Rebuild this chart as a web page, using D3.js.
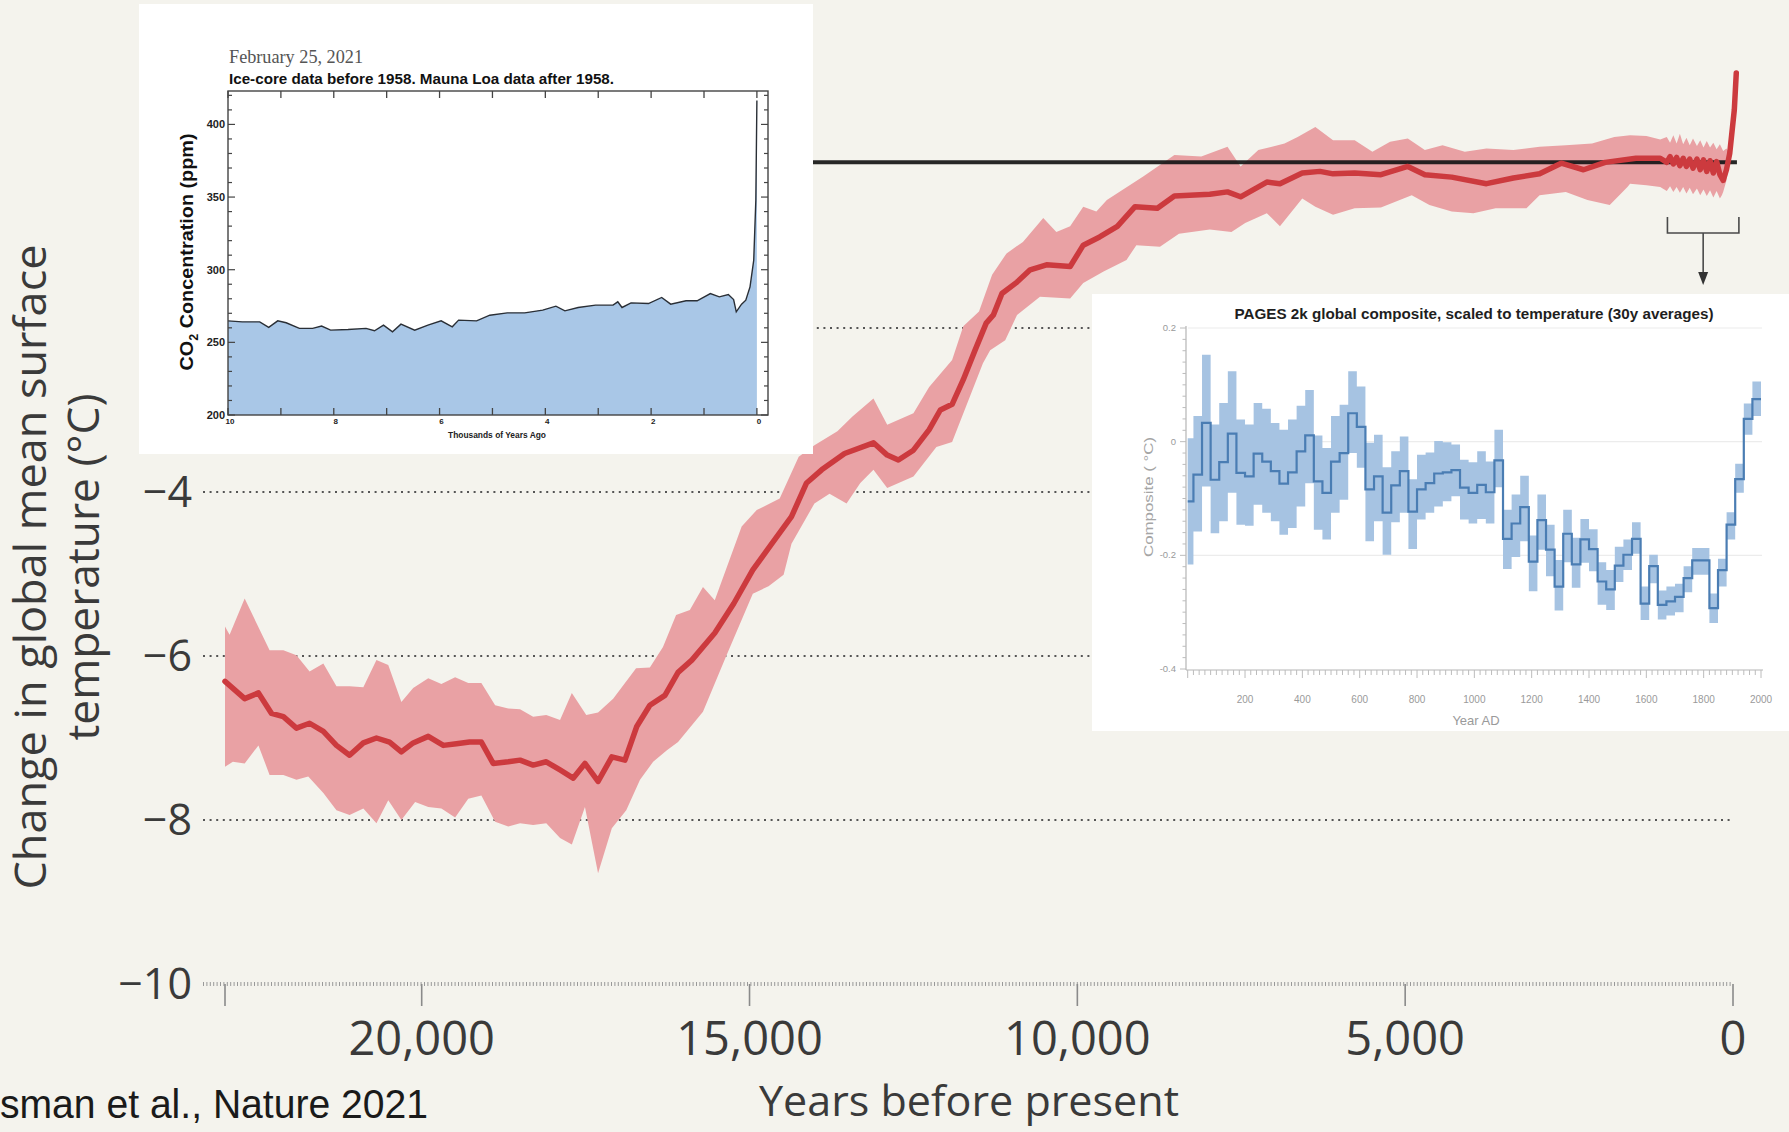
<!DOCTYPE html>
<html lang="en">
<head>
<meta charset="utf-8"/>
<title>Change in global mean surface temperature</title>
<script src="https://cdnjs.cloudflare.com/ajax/libs/d3/7.8.5/d3.min.js"></script>
<style>
  html, body { margin: 0; padding: 0; background: #f4f3ed; }
  svg { display: block; }
</style>
</head>
<body>
<svg id="chart" width="1789" height="1132"></svg>
<script>
// main reconstruction: years before present / temperature change (°C)
var lineYears = [23000,22700,22490,22290,22110,21910,21710,21500,21300,21100,20890,20690,20490,20310,20130,19900,19670,19470,19270,19090,
  18910,18680,18500,18300,18100,17890,17690,17510,17310,17100,16900,16720,16520,16290,16090,15880,15530,15240,14950,14660,14360,14130,13900,
  13550,13110,12900,12730,12500,12260,12090,11910,11740,11560,11390,11280,11150,10920,10720,10470,10110,9910,9660,9390,9120,8780,8520,7980,
  7710,7510,7110,6910,6570,6300,6100,5770,5370,4960,4700,4290,3760,3350,2950,2620,2280,1950,1480,1110,
  1010,960,910,860,810,760,710,660,610,550,500,450,400,350,300,250,200,150,100,50,-20,-50];
var lineTemp = [-6.31,-6.52,-6.45,-6.70,-6.74,-6.88,-6.82,-6.92,-7.09,-7.21,-7.06,-7.00,-7.05,-7.17,-7.06,-6.98,-7.09,-7.07,-7.05,-7.05,
  -7.31,-7.29,-7.27,-7.33,-7.29,-7.39,-7.49,-7.31,-7.53,-7.23,-7.27,-6.86,-6.60,-6.48,-6.20,-6.05,-5.72,-5.36,-4.95,-4.63,-4.30,-3.89,-3.73,
  -3.53,-3.40,-3.55,-3.61,-3.49,-3.24,-3.00,-2.93,-2.63,-2.27,-1.94,-1.84,-1.58,-1.44,-1.29,-1.23,-1.25,-0.99,-0.89,-0.76,-0.52,-0.54,-0.39,-0.37,
  -0.34,-0.40,-0.22,-0.24,-0.11,-0.09,-0.12,-0.11,-0.13,-0.03,-0.13,-0.16,-0.24,-0.17,-0.12,0.01,-0.07,0.02,0.07,0.07,
  0.02,0.09,0.00,0.08,-0.02,0.07,-0.03,0.06,-0.05,0.06,-0.07,0.05,-0.09,0.04,-0.11,0.03,-0.13,-0.20,-0.07,0.13,0.66,1.11];

var upperYears = [23000,22930,22700,22320,22110,21910,21710,21500,21300,21100,20890,20690,20510,20310,20130,19900,19700,19490,19290,19090,
  18880,18680,18500,18300,18100,17890,17710,17490,17310,17080,16730,16520,16320,16120,15910,15710,15530,15120,14890,14540,14250,14010,13660,
  13430,13110,12900,12500,12260,11910,11740,11500,11300,11080,10830,10520,10320,10110,9910,9710,9550,8990,8520,8110,7710,7510,7240,6840,6640,
  6370,6100,5770,5500,5230,4960,4700,4430,4090,3760,3350,2950,2550,2150,1810,1570,1320,1110,
  1010,960,910,860,810,760,710,660,610,550,500,450,400,350,300,250,200,150,100,50];
var upperTemp = [-5.64,-5.74,-5.30,-5.93,-5.93,-5.99,-6.19,-6.09,-6.37,-6.37,-6.38,-6.05,-6.11,-6.56,-6.39,-6.27,-6.34,-6.26,-6.33,-6.33,
  -6.60,-6.64,-6.65,-6.74,-6.72,-6.78,-6.45,-6.72,-6.69,-6.52,-6.15,-6.14,-5.89,-5.50,-5.44,-5.16,-5.32,-4.42,-4.22,-4.08,-3.57,-3.43,-3.26,
  -3.08,-2.86,-3.18,-3.04,-2.72,-2.39,-1.98,-1.80,-1.35,-1.09,-0.95,-0.66,-0.83,-0.76,-0.52,-0.58,-0.44,-0.15,0.11,0.09,0.21,-0.03,0.17,0.25,0.33,
  0.45,0.29,0.29,0.15,0.27,0.31,0.17,0.23,0.15,0.19,0.17,0.21,0.23,0.25,0.33,0.35,0.34,0.30,
  0.33,0.26,0.35,0.25,0.37,0.24,0.32,0.23,0.31,0.22,0.29,0.20,0.28,0.20,0.26,0.18,0.24,0.16,0.19,0.13];

var lowerYears = [23000,22880,22700,22490,22320,22110,21910,21730,21500,21300,21100,20890,20690,20510,20310,20100,19900,19700,19490,19290,
  19090,18880,18680,18500,18300,18100,17890,17710,17510,17310,17100,16880,16670,16470,16260,16090,15710,15360,14950,14710,14480,14360,14010,
  13780,13520,13310,13110,12900,12500,12150,11910,11440,11330,11100,10920,10570,10110,9910,9600,9250,9100,8740,8450,7980,7650,7440,7110,6910,
  6570,6370,6100,5770,5370,4900,4630,4290,3960,3620,3150,2950,2550,2220,1880,1610,1570,1320,1110,
  1010,960,910,860,810,760,710,660,610,550,500,450,400,350,300,250,200,170,150,100,50];
var lowerTemp = [-7.35,-7.29,-7.31,-7.09,-7.45,-7.45,-7.51,-7.47,-7.67,-7.88,-7.94,-7.86,-8.04,-7.76,-8.00,-7.78,-7.84,-7.86,-7.97,-7.74,
  -7.70,-8.02,-8.08,-8.04,-8.06,-8.04,-8.22,-8.30,-7.84,-8.65,-8.10,-7.88,-7.51,-7.29,-7.15,-7.05,-6.68,-6.01,-5.24,-5.15,-5.01,-4.63,-4.14,
  -4.02,-4.14,-3.89,-3.73,-3.95,-3.81,-3.45,-3.39,-2.43,-2.27,-2.15,-1.84,-1.62,-1.64,-1.45,-1.31,-1.17,-0.99,-1.01,-0.85,-0.80,-0.83,-0.72,-0.60,-0.76,
  -0.42,-0.52,-0.62,-0.54,-0.53,-0.38,-0.50,-0.58,-0.60,-0.54,-0.54,-0.38,-0.34,-0.44,-0.50,-0.28,-0.24,-0.26,-0.28,
  -0.33,-0.27,-0.34,-0.28,-0.35,-0.28,-0.36,-0.29,-0.37,-0.30,-0.38,-0.31,-0.39,-0.32,-0.41,-0.33,-0.42,-0.38,-0.34,-0.20,0.05];

var xTicks = [20000, 15000, 10000, 5000, 0];
var yTicks = [-4, -6, -8, -10];
var gridTemps = [-2, -4, -6, -8];
var refTemp = 0.02;
var bracketYears = [1000, -90];

// inset 1: CO2 (thousands of years ago / ppm)
var co2Kyr = [10.00,9.73,9.40,9.23,9.06,8.90,8.65,8.40,8.23,8.06,7.73,7.39,7.23,7.06,6.89,6.73,6.47,6.22,5.97,5.76,5.64,5.30,5.05,4.72,4.39,
  4.05,3.80,3.63,3.38,3.05,2.72,2.63,2.55,2.38,2.05,1.80,1.63,1.34,1.13,0.88,0.71,0.54,0.44,0.39,0.29,0.21,0.13,0.06,0.02,0.00];
var co2Ppm = [264.8,264.1,264.1,260.3,264.8,263.5,259.6,259.6,261.2,258.4,258.8,259.6,258.0,261.9,257.3,262.5,258.4,261.9,264.8,260.7,265.3,
  264.8,268.7,270.3,270.3,272.2,274.9,271.7,274.0,275.6,275.6,277.9,274.0,277.2,276.7,280.9,276.3,278.6,278.6,283.6,281.3,282.9,279.5,271.0,
  276.3,279.0,288.2,306.5,347.8,416.5];
var co2XTicks = [10, 8, 6, 4, 2, 0];
var co2YTicks = [200, 250, 300, 350, 400];

// inset 2: PAGES 2k composite, 30-year bins (bin start, year AD)
var compYears = [0,20,50,80,110,140,170,200,230,260,290,320,350,380,410,440,470,500,530,560,590,620,650,680,710,740,770,800,830,860,890,920,950,980,
  1010,1040,1070,1100,1130,1160,1190,1220,1250,1280,1310,1340,1370,1400,1430,1460,1490,1520,1550,1580,1610,1640,1670,1700,1730,1760,1790,1820,1850,1880,1910,1940,1970];
var compMedian = [-0.105,-0.058,0.033,-0.067,-0.036,0.014,-0.055,-0.061,-0.021,-0.035,-0.052,-0.074,-0.054,-0.017,0.011,-0.070,-0.090,-0.035,-0.020,0.050,
  0.026,-0.084,-0.061,-0.125,-0.077,-0.052,-0.123,-0.084,-0.073,-0.056,-0.054,-0.050,-0.081,-0.090,-0.076,-0.089,-0.033,-0.171,-0.144,-0.115,-0.211,
  -0.138,-0.190,-0.255,-0.162,-0.216,-0.172,-0.189,-0.246,-0.260,-0.218,-0.199,-0.171,-0.285,-0.219,-0.287,-0.281,-0.273,-0.240,-0.209,-0.209,-0.293,
  -0.226,-0.146,-0.066,0.040,0.075];
var compUpper = [0.006,0.045,0.153,0.030,0.068,0.124,0.039,0.030,0.068,0.058,0.033,0.021,0.039,0.063,0.091,0.011,-0.011,0.045,0.065,0.124,
  0.097,-0.002,0.012,-0.045,-0.017,0.009,-0.066,-0.023,-0.019,0.001,-0.001,-0.005,-0.032,-0.036,-0.017,-0.035,0.021,-0.120,-0.093,-0.060,-0.165,
  -0.093,-0.146,-0.208,-0.120,-0.169,-0.136,-0.154,-0.212,-0.226,-0.185,-0.172,-0.142,-0.255,-0.199,-0.262,-0.255,-0.250,-0.219,-0.187,-0.187,-0.267,
  -0.206,-0.124,-0.039,0.067,0.106];
var compLower = [-0.216,-0.158,-0.079,-0.161,-0.140,-0.090,-0.146,-0.148,-0.111,-0.125,-0.140,-0.164,-0.152,-0.114,-0.073,-0.155,-0.172,-0.125,-0.102,-0.020,
  -0.046,-0.175,-0.140,-0.199,-0.142,-0.125,-0.189,-0.137,-0.125,-0.114,-0.105,-0.096,-0.137,-0.144,-0.136,-0.144,-0.080,-0.224,-0.203,-0.175,-0.263,
  -0.190,-0.237,-0.297,-0.212,-0.257,-0.213,-0.228,-0.287,-0.296,-0.247,-0.226,-0.197,-0.314,-0.249,-0.313,-0.306,-0.300,-0.265,-0.234,-0.234,-0.319,
  -0.255,-0.172,-0.090,0.012,0.045];
var compEnd = 2000;
var compXTicks = [200,400,600,800,1000,1200,1400,1600,1800,2000];
var compYTicks = [0.2, 0, -0.2, -0.4];

var svg = d3.select("#chart");
var ink = "#3a3a3a";
var sans = "'Open Sans', 'DejaVu Sans', sans-serif";

svg.append("rect").attr("width", 1789).attr("height", 1132).attr("fill", "#f4f3ed");

// ---------- main chart ----------
var x = d3.scaleLinear().domain([23000, 0]).range([225, 1733]);
var y = d3.scaleLinear().domain([-10, 0]).range([984, 164]);

var grid = svg.append("g");
grid.selectAll("line.g").data(gridTemps).enter().append("line")
  .attr("x1", 203).attr("x2", x(0))
  .attr("y1", function(d) { return y(d); }).attr("y2", function(d) { return y(d); })
  .attr("stroke", "#555").attr("stroke-width", 2).attr("stroke-dasharray", "2,4.6");
// bottom line (-10) looks like a fine ruler
grid.append("line").attr("x1", 203).attr("x2", x(0)).attr("y1", y(-10)).attr("y2", y(-10))
  .attr("stroke", "#999").attr("stroke-width", 4).attr("stroke-dasharray", "1,2.4");
grid.selectAll("line.t").data([23000].concat(xTicks)).enter().append("line")
  .attr("x1", function(d) { return x(d); }).attr("x2", function(d) { return x(d); })
  .attr("y1", y(-10)).attr("y2", y(-10) + 22)
  .attr("stroke", "#8a8a8a").attr("stroke-width", 1.6);

var pts = function(ys, vs) { return ys.map(function(v, i) { return [v, vs[i]]; }); };
var upperPts = pts(upperYears, upperTemp);
var lowerPts = pts(lowerYears, lowerTemp).reverse();
var ln = d3.line().x(function(d) { return x(d[0]); }).y(function(d) { return y(d[1]); });

svg.append("path").attr("d", ln(upperPts.concat(lowerPts)) + "Z").attr("fill", "#e9a1a4");

svg.append("line").attr("x1", 813).attr("x2", x(-60))
  .attr("y1", y(refTemp)).attr("y2", y(refTemp))
  .attr("stroke", "#161616").attr("stroke-width", 4).attr("opacity", 0.92);

svg.append("path").attr("d", ln(pts(lineYears, lineTemp)))
  .attr("fill", "none").attr("stroke", "#cc3a3e").attr("stroke-width", 5.5)
  .attr("stroke-linejoin", "round").attr("stroke-linecap", "round");

// bracket + arrow to the PAGES 2k inset
var bx0 = x(bracketYears[0]), bx1 = x(bracketYears[1]), bmid = (bx0 + bx1) / 2;
svg.append("path").attr("d", "M" + bx0 + ",217V233H" + bx1 + "V217M" + bmid + ",233V274")
  .attr("fill", "none").attr("stroke", "#4a4a4a").attr("stroke-width", 1.6);
svg.append("path").attr("d", "M" + (bmid - 5) + ",272L" + (bmid + 5) + ",272L" + bmid + ",285Z").attr("fill", "#333");

// axis labels
svg.selectAll("text.xt").data(xTicks).enter().append("text")
  .attr("x", function(d) { return x(d); }).attr("y", 1055)
  .attr("text-anchor", "middle").attr("font-family", sans).attr("font-size", 47).attr("fill", ink)
  .text(function(d) { return d3.format(",")(d); });
svg.selectAll("text.yt").data(yTicks).enter().append("text")
  .attr("x", 192).attr("y", function(d) { return y(d); }).attr("dy", "0.36em")
  .attr("text-anchor", "end").attr("font-family", sans).attr("font-size", 43).attr("fill", ink)
  .text(function(d) { return "\u2212" + Math.abs(d); });

svg.append("text").attr("transform", "translate(46,567) rotate(-90)")
  .attr("text-anchor", "middle").attr("font-family", sans).attr("font-size", 44).attr("fill", ink)
  .attr("textLength", 645).attr("lengthAdjust", "spacingAndGlyphs")
  .text("Change in global mean surface");
svg.append("text").attr("transform", "translate(99,567) rotate(-90)")
  .attr("text-anchor", "middle").attr("font-family", sans).attr("font-size", 44).attr("fill", ink)
  .attr("textLength", 347).attr("lengthAdjust", "spacingAndGlyphs")
  .text("temperature (\u00b0C)");
svg.append("text").attr("x", 969).attr("y", 1116)
  .attr("text-anchor", "middle").attr("font-family", sans).attr("font-size", 42).attr("fill", ink)
  .attr("textLength", 420).attr("lengthAdjust", "spacingAndGlyphs")
  .text("Years before present");
svg.append("text").attr("x", 0).attr("y", 1118)
  .attr("font-family", "'Liberation Sans Narrow', 'Liberation Sans', sans-serif").attr("font-size", 40).attr("fill", "#1a1a1a")
  .attr("textLength", 428).attr("lengthAdjust", "spacingAndGlyphs")
  .text("sman et al., Nature 2021");

// ---------- inset 1: CO2 ----------
var g1 = svg.append("g");
var helv = "'Liberation Sans', Arial, sans-serif";
g1.append("rect").attr("x", 139).attr("y", 4).attr("width", 674).attr("height", 450).attr("fill", "#fff");
var cx = d3.scaleLinear().domain([10, -0.21]).range([228, 768]);
var cy = d3.scaleLinear().domain([200, 423]).range([415, 91]);
var co2 = pts(co2Kyr, co2Ppm);
g1.append("path")
  .attr("d", d3.area().x(function(d) { return cx(d[0]); }).y0(cy(200)).y1(function(d) { return cy(d[1]); })(co2))
  .attr("fill", "#a9c7e7");
g1.append("path")
  .attr("d", d3.line().x(function(d) { return cx(d[0]); }).y(function(d) { return cy(d[1]); })(co2))
  .attr("fill", "none").attr("stroke", "#2a2f36").attr("stroke-width", 1.4);
g1.append("rect").attr("x", 228).attr("y", 91).attr("width", 540).attr("height", 324)
  .attr("fill", "none").attr("stroke", "#444").attr("stroke-width", 1.4);
var kTicks = d3.range(10, -1, -1);
kTicks.forEach(function(k) {
  g1.append("line").attr("x1", cx(k)).attr("x2", cx(k)).attr("y1", 415).attr("y2", 408).attr("stroke", "#444").attr("stroke-width", 1.3);
  g1.append("line").attr("x1", cx(k)).attr("x2", cx(k)).attr("y1", 91).attr("y2", 98).attr("stroke", "#444").attr("stroke-width", 1.3);
});
d3.range(200, 421, 10).forEach(function(p) {
  var len = p % 50 === 0 ? 7 : 4;
  g1.append("line").attr("x1", 228).attr("x2", 228 + len).attr("y1", cy(p)).attr("y2", cy(p)).attr("stroke", "#444").attr("stroke-width", 1.2);
  g1.append("line").attr("x1", 768).attr("x2", 768 - len).attr("y1", cy(p)).attr("y2", cy(p)).attr("stroke", "#444").attr("stroke-width", 1.2);
});
g1.selectAll("text.cyt").data(co2YTicks).enter().append("text")
  .attr("x", 225).attr("y", function(d) { return cy(d) + 4; }).attr("text-anchor", "end")
  .attr("font-family", helv).attr("font-weight", "bold").attr("font-size", 11).attr("fill", "#222")
  .text(function(d) { return d; });
g1.selectAll("text.cxt").data(co2XTicks).enter().append("text")
  .attr("x", function(d) { return cx(d) + 2; }).attr("y", 424).attr("text-anchor", "middle")
  .attr("font-family", helv).attr("font-weight", "bold").attr("font-size", 8).attr("fill", "#222")
  .text(function(d) { return d; });
g1.append("text").attr("x", 497).attr("y", 438).attr("text-anchor", "middle")
  .attr("font-family", helv).attr("font-weight", "bold").attr("font-size", 8.5).attr("fill", "#222")
  .attr("textLength", 98).attr("lengthAdjust", "spacingAndGlyphs")
  .text("Thousands of Years Ago");
var co2Label = g1.append("text").attr("transform", "translate(193,252) rotate(-90)").attr("text-anchor", "middle")
  .attr("font-family", helv).attr("font-weight", "bold").attr("font-size", 19).attr("fill", "#111")
  .attr("textLength", 237).attr("lengthAdjust", "spacingAndGlyphs");
co2Label.append("tspan").text("CO");
co2Label.append("tspan").attr("font-size", 12).attr("dy", 5).text("2");
co2Label.append("tspan").attr("dy", -5).text(" Concentration (ppm)");
g1.append("text").attr("x", 229).attr("y", 63)
  .attr("font-family", "'Liberation Serif', 'Times New Roman', serif").attr("font-size", 19).attr("fill", "#555")
  .attr("textLength", 134).attr("lengthAdjust", "spacingAndGlyphs")
  .text("February 25, 2021");
g1.append("text").attr("x", 229).attr("y", 84)
  .attr("font-family", helv).attr("font-weight", "bold").attr("font-size", 14).attr("fill", "#111")
  .attr("textLength", 385).attr("lengthAdjust", "spacingAndGlyphs")
  .text("Ice-core data before 1958. Mauna Loa data after 1958.");

// ---------- inset 2: PAGES 2k ----------
var g2 = svg.append("g");
g2.append("rect").attr("x", 1092).attr("y", 294).attr("width", 697).attr("height", 437).attr("fill", "#fff");
var px = d3.scaleLinear().domain([0, 2000]).range([1187.7, 1761]);
var py = d3.scaleLinear().domain([-0.4, 0.2]).range([669, 328]);
g2.selectAll("line.pg").data([0.2, 0, -0.2]).enter().append("line")
  .attr("x1", 1188).attr("x2", 1762).attr("y1", function(d) { return py(d); }).attr("y2", function(d) { return py(d); })
  .attr("stroke", "#ececec").attr("stroke-width", 1.2);
var stepX = compYears.concat([compEnd]);
var stepIdx = d3.range(stepX.length);
var last = compYears.length - 1;
var val = function(arr, i) { return arr[Math.min(i, last)]; };
g2.append("path")
  .attr("d", d3.area().curve(d3.curveStepAfter)
    .x(function(i) { return px(stepX[i]); })
    .y0(function(i) { return py(val(compLower, i)); })
    .y1(function(i) { return py(val(compUpper, i)); })(stepIdx))
  .attr("fill", "#a6c3e2");
g2.append("path")
  .attr("d", d3.line().curve(d3.curveStepAfter)
    .x(function(i) { return px(stepX[i]); })
    .y(function(i) { return py(val(compMedian, i)); })(stepIdx))
  .attr("fill", "none").attr("stroke", "#4a7db3").attr("stroke-width", 2.2);
// axes
g2.append("line").attr("x1", 1186).attr("x2", 1186).attr("y1", 326).attr("y2", 670).attr("stroke", "#b5b5b5").attr("stroke-width", 1.2);
g2.append("line").attr("x1", 1186).attr("x2", 1763).attr("y1", 670).attr("y2", 670).attr("stroke", "#b5b5b5").attr("stroke-width", 1.2);
d3.range(-20, 11).forEach(function(k) {
  var v = k / 50;
  var major = k % 10 === 0;
  g2.append("line").attr("x1", 1186).attr("x2", 1186 - (major ? 6 : 3.5)).attr("y1", py(v)).attr("y2", py(v))
    .attr("stroke", "#bcbcbc").attr("stroke-width", 1);
});
d3.range(0, 2001, 20).forEach(function(yr) {
  var major = yr % 200 === 0;
  g2.append("line").attr("x1", px(yr)).attr("x2", px(yr)).attr("y1", 670).attr("y2", 670 + (major ? 8 : 5))
    .attr("stroke", "#bcbcbc").attr("stroke-width", 1);
});
g2.selectAll("text.pyt").data(compYTicks).enter().append("text")
  .attr("x", 1176).attr("y", function(d) { return py(d) + 3; }).attr("text-anchor", "end")
  .attr("font-family", helv).attr("font-size", 9.5).attr("fill", "#9a9a9a")
  .text(function(d) { return d; });
g2.selectAll("text.pxt").data(compXTicks).enter().append("text")
  .attr("x", function(d) { return px(d); }).attr("y", 703).attr("text-anchor", "middle")
  .attr("font-family", helv).attr("font-size", 10).attr("fill", "#9a9a9a")
  .text(function(d) { return d; });
g2.append("text").attr("x", 1476).attr("y", 725).attr("text-anchor", "middle")
  .attr("font-family", helv).attr("font-size", 13).attr("fill", "#9a9a9a").text("Year AD");
g2.append("text").attr("transform", "translate(1153,497) rotate(-90)").attr("text-anchor", "middle")
  .attr("font-family", helv).attr("font-size", 13).attr("fill", "#a5a5a5")
  .attr("textLength", 120).attr("lengthAdjust", "spacingAndGlyphs")
  .text("Composite ( \u00b0C)");
g2.append("text").attr("x", 1474).attr("y", 319).attr("text-anchor", "middle")
  .attr("font-family", helv).attr("font-weight", "bold").attr("font-size", 14.5).attr("fill", "#1e1e1e")
  .attr("textLength", 479).attr("lengthAdjust", "spacingAndGlyphs")
  .text("PAGES 2k global composite, scaled to temperature (30y averages)");
</script>
</body>
</html>
